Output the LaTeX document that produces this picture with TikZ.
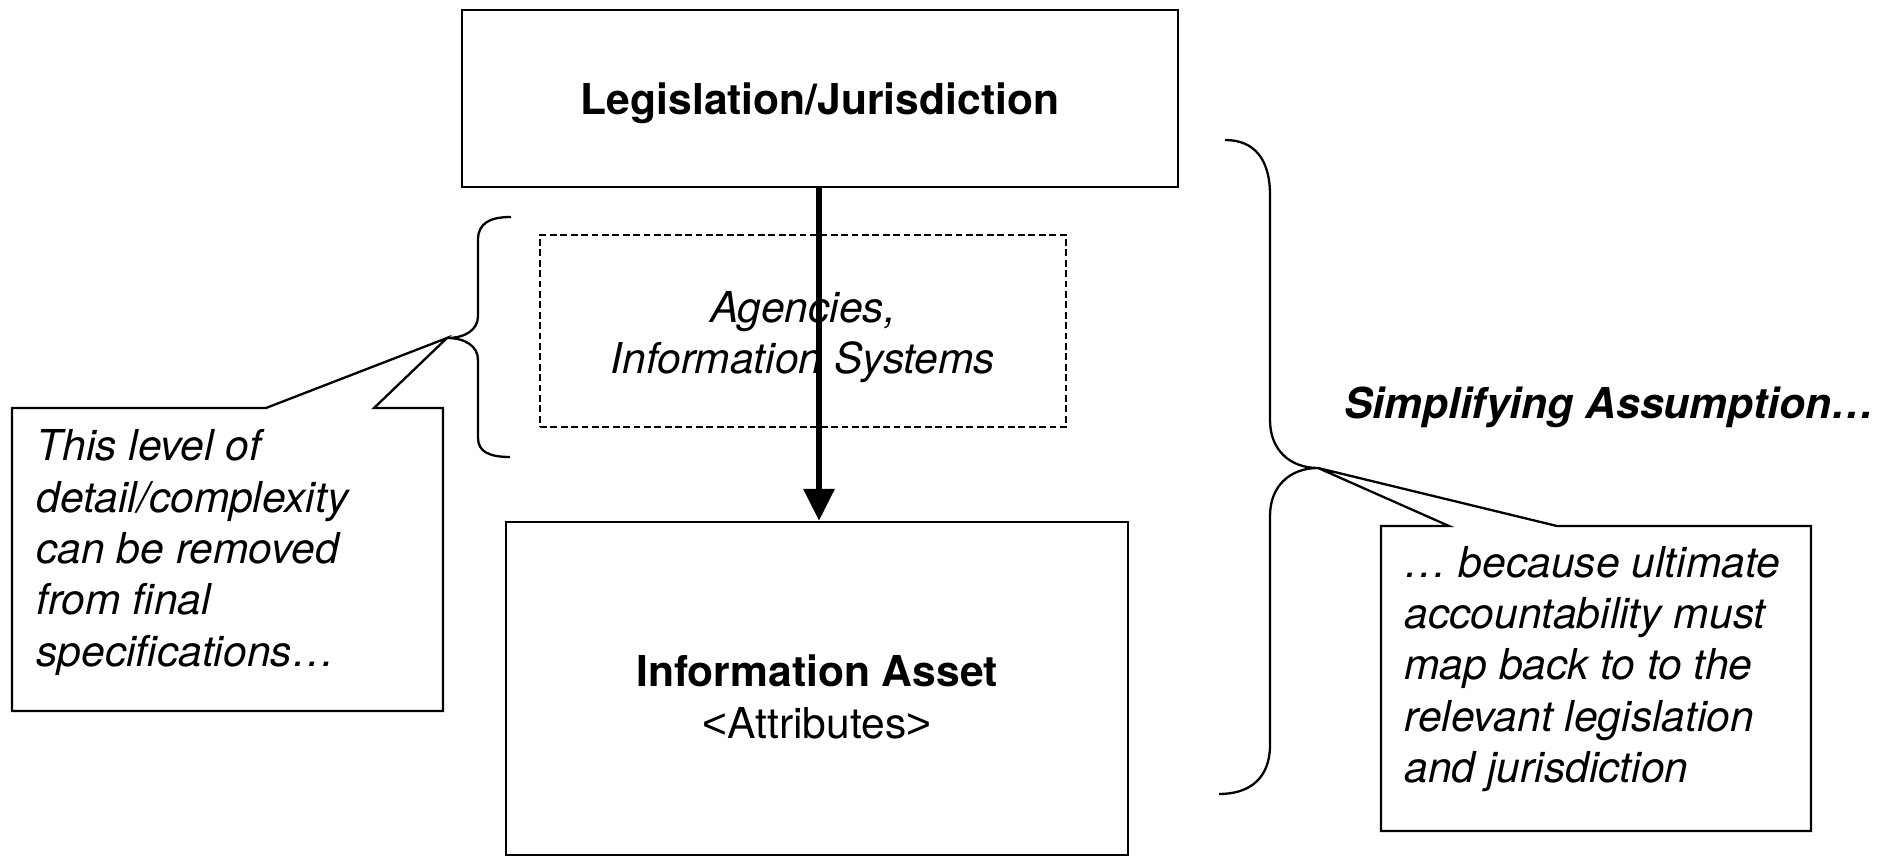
\documentclass[tikz,border=0pt]{standalone}
\usepackage{fontspec}
\setmainfont{TeX Gyre Heros}
\newfontfamily\arialfont{Liberation Sans}
\usetikzlibrary{arrows.meta}
\begin{document}
\begin{tikzpicture}[x=0.5pt,y=-0.5pt,
  every node/.style={font=\fontsize{21.3}{25.7}\selectfont},
  box/.style={draw, line width=1.15pt, inner sep=0pt},
  dbox/.style={draw, line width=1.3pt, dash pattern=on 3.4pt off 1.8pt, inner sep=0pt},
  lbl/.style={inner sep=0pt, align=center},
  flow/.style={line width=3.2pt, -{Triangle[width=15pt,length=16pt]}},
  brace/.style={line width=1.15pt},
  callout/.style={line width=1.15pt, line join=miter},
  txt/.style={inner sep=0pt, align=left, anchor=west}]
\useasboundingbox (0,0) rectangle (1893,856);
% main boxes
\node[box, minimum width=358pt, minimum height=88.5pt] (leg) at (820,98.5) {};
\node[lbl] (legt) at (820,103) {\bfseries Legislation/Jurisdiction};
\node[dbox, minimum width=263pt, minimum height=96pt] (agn) at (803,331) {};
\node[lbl] (agnt) at (803,337) {\itshape Agencies,\\\itshape Information Systems};
\node[box, minimum width=311pt, minimum height=166.5pt] (ia) at (817,688.5) {};
\node[lbl] (iat) at (817,697) {\bfseries Information Asset\\{\arialfont <}Attributes{\arialfont >}};
\draw[flow] (leg.south -| 819,0) -- (ia.north -| 819,0);
% left brace
\coordinate (lt) at (447,338);
\draw[brace] (511,217) .. controls (490,217) and (478,223) .. (478,240) -- (478,316) .. controls (478,330) and (465,338) .. (lt) .. controls (465,338) and (478,346) .. (478,360) -- (478,438) .. controls (478,452) and (490,457) .. (510,457);
% left callout
\draw[callout] (266,408) -- (lt) -- (374,408) -- (443,408) -- (443,711) -- (12,711) -- (12,408) -- cycle;
\node[txt] (lnote) at (36,552.5) {\itshape This level of\\\itshape detail/complexity\\\itshape can be removed\\\itshape from final\\\itshape specifications\dots};
% right brace
\coordinate (rt) at (1318,468);
\draw[brace] (1225,140) .. controls (1255,140) and (1270,160) .. (1270,195) -- (1270,420) .. controls (1270,450) and (1290,468) .. (rt) .. controls (1290,468) and (1270,486) .. (1270,516) -- (1270,745) .. controls (1270,778) and (1250,794) .. (1219,794);
\node[inner sep=0pt] (simp) at (1609,407) {\bfseries\itshape Simplifying Assumption\dots};
% right callout
\draw[callout] (1449,526) -- (rt) -- (1557,526) -- (1811,526) -- (1811,831) -- (1381,831) -- (1381,526) -- cycle;
\node[txt] (rnote) at (1404,669) {\itshape\dots{} because ultimate\\\itshape accountability must\\\itshape map back to to the\\\itshape relevant legislation\\\itshape and jurisdiction};
\end{tikzpicture}
\end{document}
